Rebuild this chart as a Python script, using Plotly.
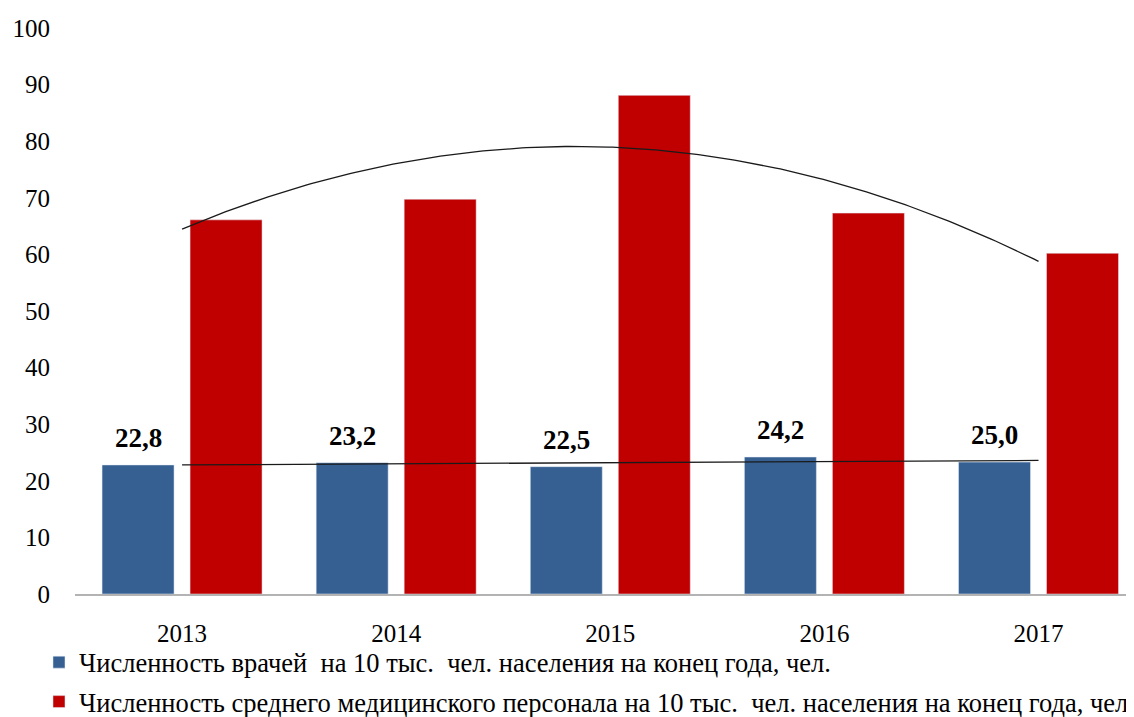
import numpy as np
import plotly.graph_objects as go

years = ["2013", "2014", "2015", "2016", "2017"]
doctors = [22.8, 23.2, 22.5, 24.2, 23.3]
doctor_labels = ["22,8", "23,2", "22,5", "24,2", "25,0"]
nurses = [66.1, 69.75, 88.1, 67.3, 60.2]

name_doctors = "Численность врачей  на 10 тыс.  чел. населения на конец года, чел."
name_nurses = "Численность среднего медицинского персонала на 10 тыс.  чел. населения на конец года, чел."

BLUE = "#376092"
RED = "#C00000"
FONT = "Liberation Serif"

bargap = 0.178
bargroupgap = 0.182

x = np.arange(len(years))

fig = go.Figure()
fig.add_trace(go.Bar(x=x, y=doctors, name=name_doctors, marker_color=BLUE,
                     legendgroup="a"))
fig.add_trace(go.Bar(x=x, y=nurses, name=name_nurses, marker_color=RED,
                     legendgroup="b"))

# Excel-style trendlines computed from the data
xs = np.linspace(0, len(years) - 1, 200)
lin = np.polyfit(x, doctors, 1)
quad = np.polyfit(x, nurses, 2)
fig.add_trace(go.Scatter(x=xs, y=np.polyval(lin, xs), mode="lines",
                         line=dict(color="#1a1a1a", width=1.3),
                         showlegend=False, hoverinfo="skip"))
fig.add_trace(go.Scatter(x=xs, y=np.polyval(quad, xs), mode="lines",
                         line=dict(color="#1a1a1a", width=1.3),
                         showlegend=False, hoverinfo="skip"))

# data labels above the blue bars
slot = (1 - bargap) / 2
offset = slot / 2
for i, (v, t) in enumerate(zip(doctors, doctor_labels)):
    fig.add_annotation(x=i - offset, y=v, text="<b>%s</b>" % t, showarrow=False,
                       yanchor="middle", yshift=27,
                       font=dict(family=FONT, size=27, color="black"))

fig.update_layout(
    width=1134, height=717, autosize=False,
    margin=dict(l=67, r=8, t=20, b=131, autoexpand=False),
    paper_bgcolor="white", plot_bgcolor="white",
    barmode="group", bargap=bargap, bargroupgap=bargroupgap,
    font=dict(family=FONT, size=25, color="black"),
    showlegend=True,
    legend=dict(orientation="v", x=-0.034, xanchor="left", y=-0.0785, yanchor="top",
                font=dict(family=FONT, size=26.5, color="black"),
                traceorder="grouped", tracegroupgap=2, itemclick=False,
                bgcolor="rgba(0,0,0,0)"),
)
fig.update_xaxes(range=[-0.5, 4.446], tickmode="array", tickvals=list(x), ticktext=years,
                 showline=True, linecolor="#b3b3b3", linewidth=1.5, automargin=False,
                 showgrid=False, zeroline=False, ticks="", ticklabelstandoff=16,
                 tickfont=dict(family=FONT, size=25))
fig.update_yaxes(range=[0, 100], dtick=10, showline=False, showgrid=False, automargin=False,
                 zeroline=False, ticks="", ticklabelstandoff=24,
                 tickfont=dict(family=FONT, size=25))

fig.write_html("out.html")
